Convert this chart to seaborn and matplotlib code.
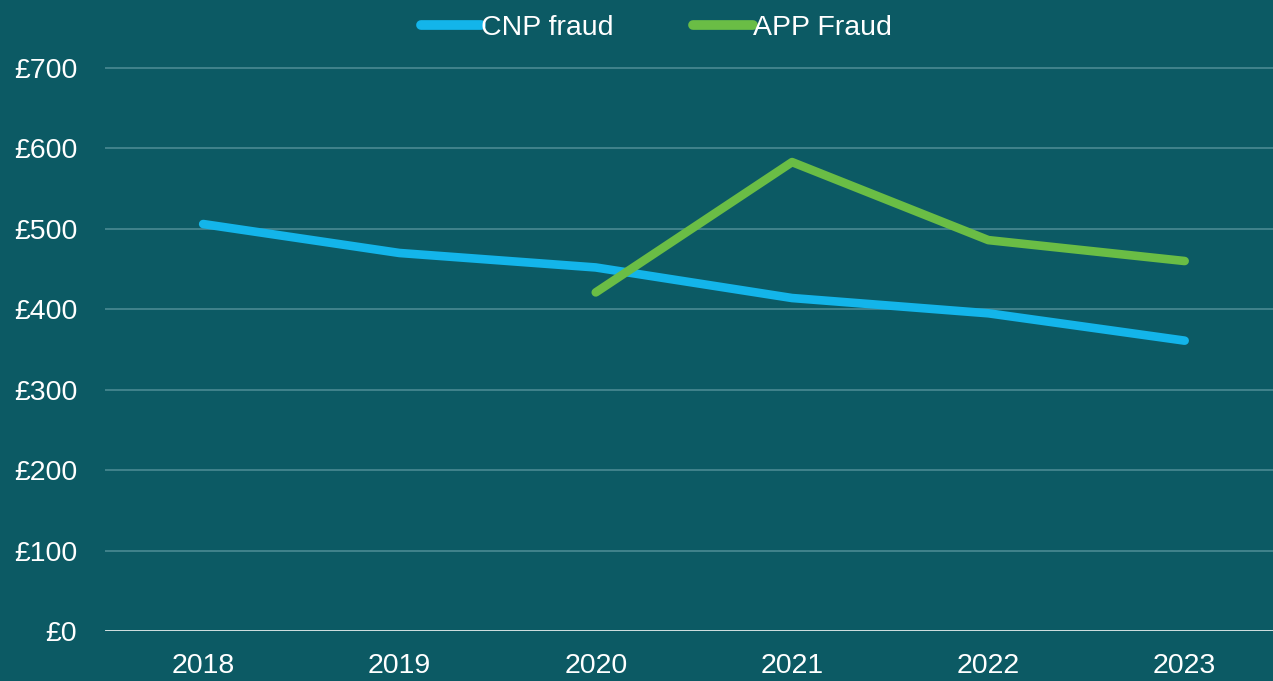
import matplotlib
matplotlib.use("Agg")
import matplotlib.pyplot as plt
import seaborn as sns
import pandas as pd
import numpy as np

years = ["2018", "2019", "2020", "2021", "2022", "2023"]
cnp_fraud = [506, 470, 452, 414, 395, 361]
app_years = ["2020", "2021", "2022", "2023"]
app_fraud = [421, 583, 486, 460]
y_ticks = [0, 100, 200, 300, 400, 500, 600, 700]

BG = "#0c5a64"
sns.set_theme(style="dark")
plt.rcParams['font.family'] = ['Liberation Sans', 'DejaVu Sans']

df = pd.concat([
    pd.DataFrame({"Year": years, "Value": cnp_fraud, "Series": "CNP fraud"}),
    pd.DataFrame({"Year": app_years, "Value": app_fraud, "Series": "APP Fraud"}),
])
order = {y: i for i, y in enumerate(years)}
df["x"] = df["Year"].map(order)

fig = plt.figure(figsize=(12.73, 6.81), dpi=100, facecolor=BG)
ax = fig.add_axes([105/1273, 50/681, 1 - 105/1273, (631-50)/681])
ax.set_facecolor(BG)

sns.lineplot(data=df, x="x", y="Value", hue="Series",
             palette={"CNP fraud": "#13b5ea", "APP Fraud": "#6abd45"},
             linewidth=6.2, ax=ax, legend=True, solid_capstyle="round")

ax.set_xlim(-0.5, 5.45)
ax.set_ylim(0, 700 * (631-50)/(631-68))
ax.set_yticks(y_ticks)
ax.set_yticklabels([f"£{v}" for v in y_ticks])
ax.set_xticks(range(len(years)))
ax.set_xticklabels(years)
ax.set_xlabel("")
ax.set_ylabel("")
ax.grid(False)
for v in y_ticks[1:]:
    ax.axhline(v, color="#4a8a92", linewidth=1.2, zorder=0)
ax.axhline(0, color="#e6eeee", linewidth=2, zorder=1)
for s in ax.spines.values():
    s.set_visible(False)
ax.tick_params(axis="both", colors="white", labelsize=20.5, length=0)
ax.tick_params(axis="y", pad=20)
ax.tick_params(axis="x", pad=16)
for lbl in ax.get_yticklabels():
    lbl.set_horizontalalignment("right")

handles, labels = ax.get_legend_handles_labels()
for h in handles:
    h.set_solid_capstyle("round")
    h.set_linewidth(7)
leg = ax.legend(handles, labels, loc="upper center", bbox_to_anchor=(0.472, 1.104),
                ncol=2, frameon=False, fontsize=20.5, labelcolor="white",
                handlelength=2.1, handletextpad=0.0, columnspacing=2.8)

fig.savefig("out.png", dpi=100, facecolor=BG)
